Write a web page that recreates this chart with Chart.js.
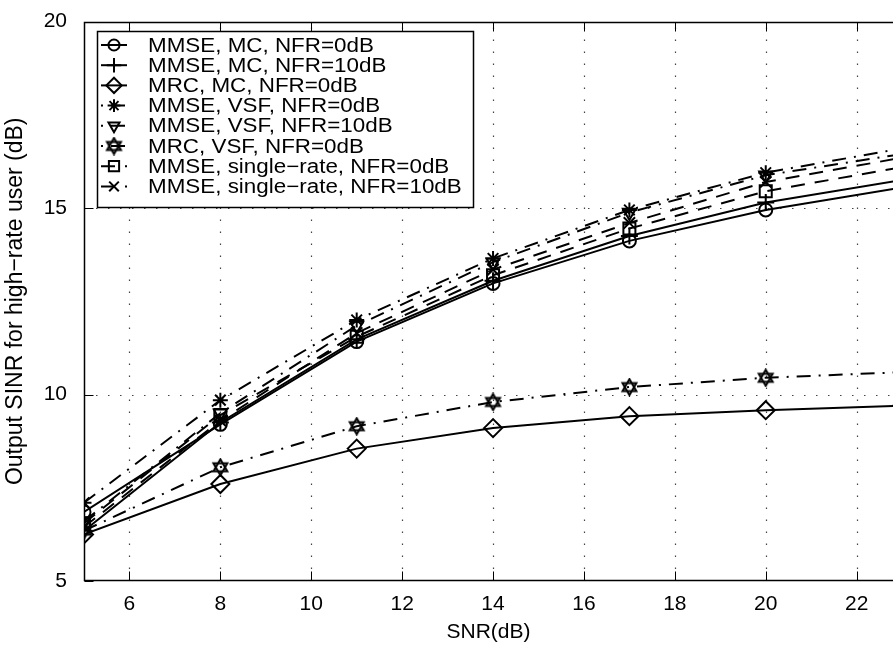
<!DOCTYPE html>
<html>
<head>
<meta charset="utf-8">
<script src="https://cdn.jsdelivr.net/npm/chart.js@4.4.1/dist/chart.umd.min.js"></script>
<style>
  html, body { margin: 0; padding: 0; background: #fff; overflow: hidden; }
  #chart { display: block; }
</style>
</head>
<body>
<canvas id="chart" width="893" height="649"></canvas>
<script>
// SNR points (dB) and axis ticks
const snr = [5, 8, 11, 14, 17, 20, 23];
const xTicks = [6, 8, 10, 12, 14, 16, 18, 20, 22];
const yTicks = [5, 10, 15, 20];

const seriesLabels = [
    'MMSE, MC, NFR=0dB',
    'MMSE, MC, NFR=10dB',
    'MRC, MC, NFR=0dB',
    'MMSE, VSF, NFR=0dB',
    'MMSE, VSF, NFR=10dB',
    'MRC, VSF, NFR=0dB',
    'MMSE, single\u2212rate, NFR=0dB',
    'MMSE, single\u2212rate, NFR=10dB'
];

// output SINR (dB)
const mmseMc0 = [6.85, 9.2, 11.42, 12.98, 14.12, 14.95, 15.55];
const mmseMc10 = [6.35, 9.25, 11.48, 13.05, 14.25, 15.15, 15.75];
const mrcMc0 = [6.25, 7.6, 8.55, 9.1, 9.42, 9.58, 9.7];
const mmseVsf0 = [7.1, 9.85, 12.0, 13.65, 14.95, 15.95, 16.6];
const mmseVsf10 = [6.6, 9.5, 11.85, 13.55, 14.88, 15.88, 16.45];
const mrcVsf0 = [6.35, 8.05, 9.15, 9.8, 10.2, 10.45, 10.6];
const mmseSingle0 = [6.55, 9.45, 11.55, 13.2, 14.45, 15.45, 16.1];
const mmseSingle10 = [6.45, 9.3, 11.65, 13.35, 14.6, 15.7, 16.35];

const FONT = 'Liberation Sans, Arial, Helvetica, sans-serif';
const SOLID = [];
const DASHED = [14, 10];
const DASHDOT = [14, 8, 2, 8];

function makeHexagram(size) {
    const c = document.createElement('canvas');
    c.width = size;
    c.height = size;
    const g = c.getContext('2d');
    const r = size / 2 - 1.5;
    g.strokeStyle = '#000';
    g.lineWidth = 2;
    [-Math.PI / 2, Math.PI / 2].forEach(rot => {
        g.beginPath();
        for (let k = 0; k < 3; k++) {
            const a = rot + k * 2 * Math.PI / 3;
            const px = size / 2 + r * Math.cos(a);
            const py = size / 2 + r * Math.sin(a);
            if (k === 0) g.moveTo(px, py); else g.lineTo(px, py);
        }
        g.closePath();
        g.stroke();
    });
    return c;
}
const hexagram = makeHexagram(19);

function series(label, values, dash, style, radius, rotation) {
    return {
        label: label,
        data: snr.map((x, i) => ({ x: x, y: values[i] })),
        borderColor: '#000',
        borderWidth: 2,
        borderDash: dash,
        pointStyle: style,
        pointRadius: radius,
        pointRotation: rotation || 0,
        pointBorderWidth: 2,
        pointBorderColor: '#000',
        pointBackgroundColor: 'rgba(0,0,0,0)',
        tension: 0,
        fill: false
    };
}

const datasets = [
    series(seriesLabels[0], mmseMc0, SOLID, 'circle', 6.5),
    series(seriesLabels[1], mmseMc10, SOLID, 'cross', 8.5),
    series(seriesLabels[2], mrcMc0, SOLID, 'rectRot', 9),
    series(seriesLabels[3], mmseVsf0, DASHDOT, 'star', 7.5),
    series(seriesLabels[4], mmseVsf10, DASHDOT, 'triangle', 7.5, 180),
    series(seriesLabels[5], mrcVsf0, DASHDOT, hexagram, 9.5),
    series(seriesLabels[6], mmseSingle0, DASHED, 'rect', 8.5),
    series(seriesLabels[7], mmseSingle10, DASHED, 'crossRot', 8)
];

// dotted grid, axis box and inward ticks, matlab style
const framePlugin = {
    id: 'frame',
    beforeDatasetsDraw(chart) {
        const { ctx, chartArea: a, scales: { x, y } } = chart;
        ctx.save();
        ctx.strokeStyle = '#444';
        ctx.lineWidth = 1.2;
        ctx.setLineDash([1.5, 10.5]);
        xTicks.forEach(v => {
            const px = Math.round(x.getPixelForValue(v)) + 0.5;
            ctx.beginPath();
            ctx.moveTo(px, a.bottom);
            ctx.lineTo(px, a.top);
            ctx.stroke();
        });
        yTicks.forEach(v => {
            if (v <= y.min || v >= y.max) return;
            const py = Math.round(y.getPixelForValue(v)) + 0.5;
            ctx.beginPath();
            ctx.moveTo(a.left, py);
            ctx.lineTo(a.right, py);
            ctx.stroke();
        });
        ctx.restore();
    },
    afterDatasetsDraw(chart) {
        const { ctx, chartArea: a, scales: { x, y } } = chart;
        const L = Math.round(a.left) + 0.5;
        const T = Math.round(a.top) + 0.5;
        const B = Math.round(a.bottom) - 0.5;
        ctx.save();
        ctx.strokeStyle = '#000';
        ctx.lineWidth = 1.5;
        ctx.setLineDash([]);
        ctx.beginPath();
        ctx.moveTo(a.right, T);
        ctx.lineTo(L, T);
        ctx.lineTo(L, B);
        ctx.lineTo(a.right, B);
        ctx.stroke();
        ctx.lineWidth = 1;
        const len = 9;
        xTicks.forEach(v => {
            const px = Math.round(x.getPixelForValue(v)) + 0.5;
            ctx.beginPath();
            ctx.moveTo(px, B);
            ctx.lineTo(px, B - len);
            ctx.moveTo(px, T);
            ctx.lineTo(px, T + len);
            ctx.stroke();
        });
        yTicks.forEach(v => {
            const py = Math.round(y.getPixelForValue(v)) + 0.5;
            ctx.beginPath();
            ctx.moveTo(L, py);
            ctx.lineTo(L + len, py);
            ctx.stroke();
        });
        ctx.restore();
    }
};

// boxed legend in the upper left corner
const legendPlugin = {
    id: 'boxLegend',
    afterDraw(chart) {
        const { ctx } = chart;
        const box = { left: 97, top: 31, width: 376, height: 176 };
        const rowH = 20.2;
        ctx.save();
        ctx.fillStyle = '#fff';
        ctx.fillRect(box.left, box.top, box.width, box.height);
        ctx.strokeStyle = '#000';
        ctx.lineWidth = 1.5;
        ctx.strokeRect(box.left + 0.5, box.top + 0.5, box.width, box.height);
        ctx.font = '20px ' + FONT;
        ctx.textBaseline = 'middle';
        chart.data.datasets.forEach((ds, i) => {
            const cy = box.top + 14 + i * rowH;
            ctx.strokeStyle = '#000';
            ctx.lineWidth = 2;
            ctx.setLineDash(ds.borderDash);
            ctx.lineDashOffset = ds.borderDash === DASHDOT ? 22 : 0;
            ctx.beginPath();
            ctx.moveTo(101, cy);
            ctx.lineTo(127, cy);
            ctx.stroke();
            ctx.setLineDash([]);
            ctx.lineDashOffset = 0;
            ctx.fillStyle = 'rgba(0,0,0,0)';
            ctx.lineWidth = 2;
            Chart.helpers.drawPoint(ctx, {
                pointStyle: ds.pointStyle,
                rotation: ds.pointRotation,
                radius: ds.pointRadius * 0.85,
                borderWidth: 2
            }, 114, cy);
            ctx.fillStyle = '#000';
            ctx.save();
            ctx.translate(148, cy + 1);
            ctx.scale(1.12, 1);
            ctx.fillText(ds.label, 0, 0);
            ctx.restore();
        });
        ctx.restore();
    }
};

new Chart(document.getElementById('chart'), {
    type: 'line',
    data: { datasets: datasets },
    options: {
        responsive: false,
        animation: false,
        devicePixelRatio: 1,
        layout: { autoPadding: false, padding: { top: 18, right: 0, left: 0, bottom: 0 } },
        plugins: {
            legend: { display: false },
            tooltip: { enabled: false }
        },
        scales: {
            x: {
                type: 'linear',
                min: 5,
                max: 22.8,
                afterBuildTicks: scale => { scale.ticks = xTicks.map(v => ({ value: v })); },
                afterFit: scale => {
                    scale.height = 68;
                    scale.paddingLeft = 0;
                    scale.paddingRight = 0;
                },
                grid: { display: false },
                border: { display: false },
                ticks: { color: '#000', font: { family: FONT, size: 21 }, padding: 3, maxRotation: 0 },
                title: { display: true, text: 'SNR(dB)', color: '#000', font: { family: FONT, size: 21 }, padding: { top: 0, bottom: 4 } }
            },
            y: {
                min: 5,
                max: 20,
                afterBuildTicks: scale => { scale.ticks = yTicks.map(v => ({ value: v })); },
                afterFit: scale => { scale.width = 84; },
                grid: { display: false },
                border: { display: false },
                ticks: { color: '#000', font: { family: FONT, size: 21 }, padding: 9 },
                title: { display: true, text: 'Output SINR for high\u2212rate user (dB)', color: '#000', font: { family: FONT, size: 23 }, padding: { top: 2, bottom: 0 } }
            }
        }
    },
    plugins: [framePlugin, legendPlugin]
});
</script>
</body>
</html>
